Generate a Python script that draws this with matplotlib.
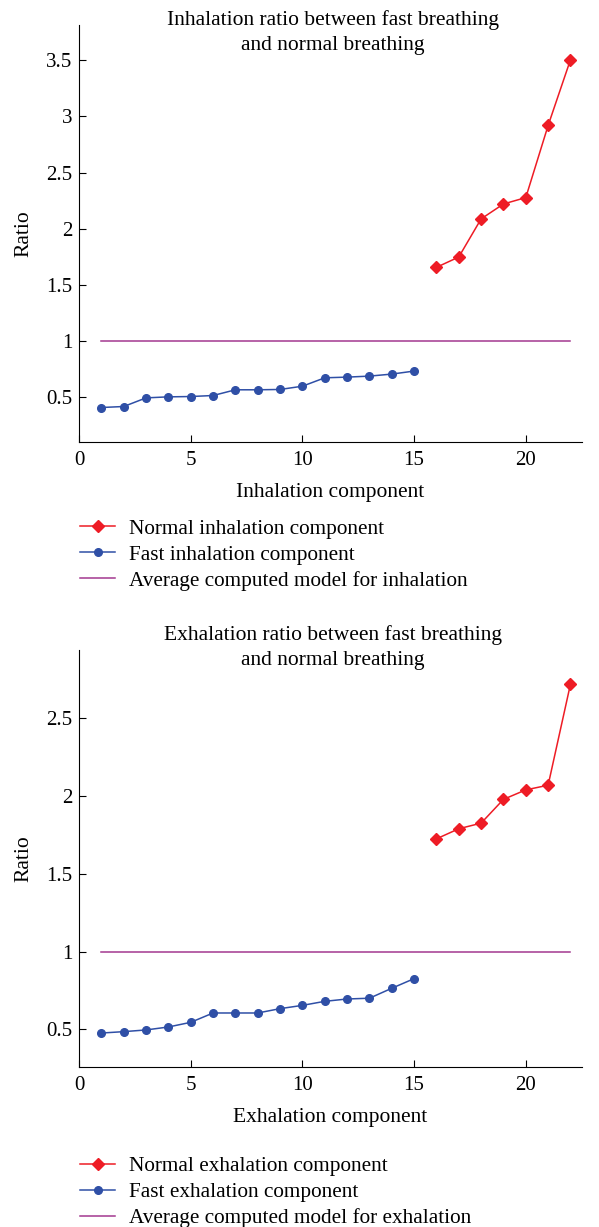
import numpy as np
import matplotlib
matplotlib.use("Agg")
import matplotlib.pyplot as plt

# ── DATA ─────────────────────────────────────────────
fast_x = list(range(1, 16))
normal_x = list(range(16, 23))

fast_inh = [0.405, 0.414, 0.491, 0.50, 0.503, 0.512, 0.563, 0.563, 0.566,
            0.595, 0.670, 0.676, 0.685, 0.703, 0.730]
normal_inh = [1.655, 1.747, 2.087, 2.22, 2.277, 2.92, 3.506]

fast_exh = [0.476, 0.485, 0.496, 0.515, 0.545, 0.605, 0.605, 0.605, 0.633,
            0.654, 0.680, 0.695, 0.700, 0.764, 0.826]
normal_exh = [1.725, 1.790, 1.826, 1.979, 2.040, 2.070, 2.720]

avg_x = [1, 22]
avg_val = [1.0, 1.0]

RED = "#ee1c25"
BLUE = "#2f4fa6"
PURPLE = "#a3388f"

plt.rcParams["font.family"] = ["Liberation Serif", "DejaVu Serif"]
plt.rcParams["font.size"] = 15


def draw_panel(ax, fast, normal, yticks, ylim, xlabel, names):
    l1, = ax.plot(normal_x, normal, color=RED, marker="D", markersize=6.5,
                  linewidth=1.1, label=names[0])
    l2, = ax.plot(fast_x, fast, color=BLUE, marker="o", markersize=5.5,
                  linewidth=1.1, label=names[1])
    l3, = ax.plot(avg_x, avg_val, color=PURPLE, linewidth=1.1, label=names[2])
    ax.set_xlim(0, 22.5)
    ax.set_ylim(*ylim)
    ax.set_xticks([0, 5, 10, 15, 20])
    ax.set_yticks(yticks)
    ax.set_yticklabels([f"{t:g}" for t in yticks])
    ax.spines["top"].set_visible(False)
    ax.spines["right"].set_visible(False)
    ax.tick_params(direction="in", length=5, labelsize=15)
    ax.tick_params(axis="x", pad=7)
    ax.tick_params(axis="y", pad=5)
    ax.set_xlabel(xlabel, fontsize=15.5, labelpad=9)
    ax.set_ylabel("Ratio", fontsize=15.5, labelpad=9)
    return [l1, l2, l3]


def add_legend(handles, top):
    fig.legend(handles=handles, loc="upper left", bbox_to_anchor=(0.12, top),
               frameon=False, fontsize=15.3, handlelength=1.65,
               handletextpad=0.65, labelspacing=0.29, borderaxespad=0)


fig = plt.figure(figsize=(5.99, 12.27), dpi=100)

ax1 = fig.add_axes([0.132, 0.640, 0.839, 0.340])
h1 = draw_panel(ax1, fast_inh, normal_inh, [0.5, 1, 1.5, 2, 2.5, 3, 3.5],
                (0.1, 3.82), "Inhalation component",
                ["Normal inhalation component", "Fast inhalation component",
                 "Average computed model for inhalation"])
fig.text(0.556, 0.9736, "Inhalation ratio between fast breathing\nand normal breathing",
         ha="center", va="center", fontsize=15.5, linespacing=1.45)
add_legend(h1, 0.584)

ax2 = fig.add_axes([0.132, 0.1307, 0.839, 0.3396])
h2 = draw_panel(ax2, fast_exh, normal_exh, [0.5, 1, 1.5, 2, 2.5],
                (0.26, 2.94), "Exhalation component",
                ["Normal exhalation component", "Fast exhalation component",
                 "Average computed model for exhalation"])
fig.text(0.556, 0.4721, "Exhalation ratio between fast breathing\nand normal breathing",
         ha="center", va="center", fontsize=15.5, linespacing=1.45)
add_legend(h2, 0.0645)

fig.savefig("out.png", dpi=100)
plt.close(fig)
